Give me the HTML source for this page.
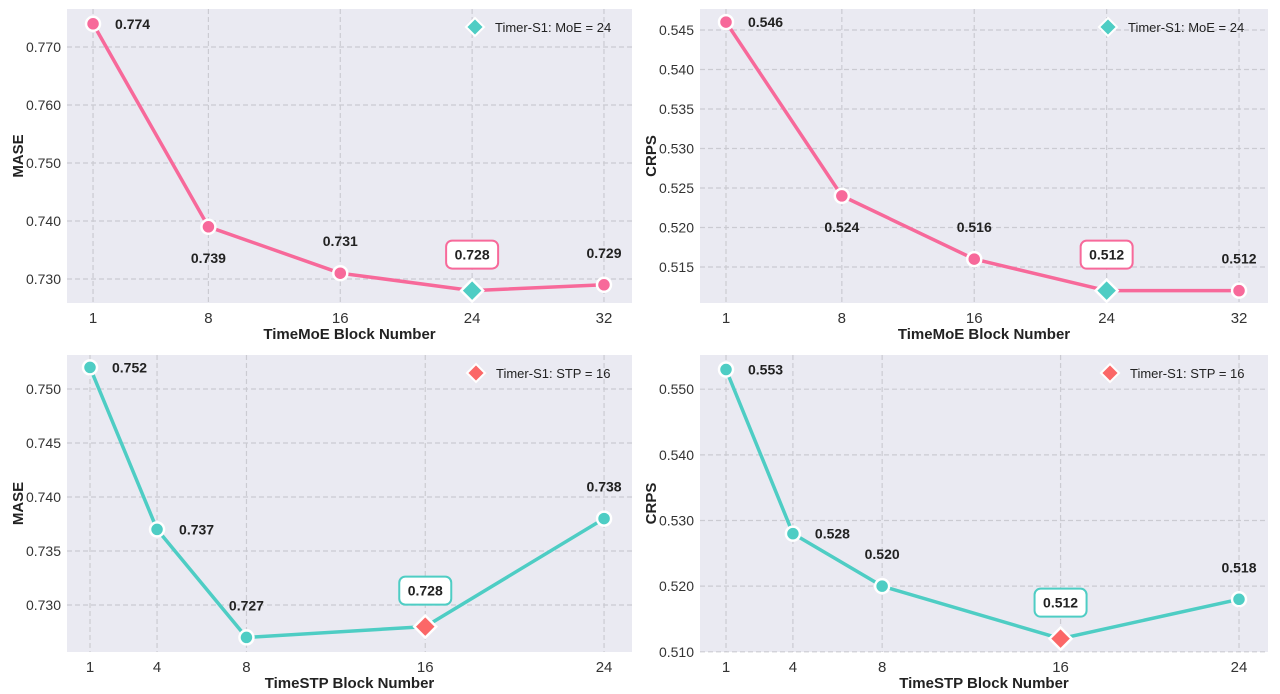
<!DOCTYPE html>
<html><head><meta charset="utf-8"><style>
body{margin:0;background:#fff;}
svg{display:block;font-family:"Liberation Sans",Arial,sans-serif;}
</style></head><body>
<svg id="c" width="1280" height="694"></svg>
<script>
const catsMoE = [1, 8, 16, 24, 32];
const maseMoE = [0.774, 0.739, 0.731, 0.728, 0.729];
const crpsMoE = [0.546, 0.524, 0.516, 0.512, 0.512];
const catsSTP = [1, 4, 8, 16, 24];
const maseSTP = [0.752, 0.737, 0.727, 0.728, 0.738];
const crpsSTP = [0.553, 0.528, 0.520, 0.512, 0.518];
const ticksMaseMoE = [0.730, 0.740, 0.750, 0.760, 0.770];
const ticksCrpsMoE = [0.515, 0.520, 0.525, 0.530, 0.535, 0.540, 0.545];
const ticksMaseSTP = [0.730, 0.735, 0.740, 0.745, 0.750];
const ticksCrpsSTP = [0.510, 0.520, 0.530, 0.540, 0.550];
const labelPosMoEMase = ['r','b','a','box','a'];
const labelPosMoECrps = ['r','b','a','box','a'];
const labelPosSTPMase = ['r','r','a','box','a'];
const labelPosSTPCrps = ['r','r','a','box','a'];

const NS='http://www.w3.org/2000/svg';
const svg=document.getElementById('c');
function mk(tag,attrs,parent){const e=document.createElementNS(NS,tag);for(const k in attrs)e.setAttribute(k,attrs[k]);(parent||svg).appendChild(e);return e;}

const PINK='#f7699a', TEAL='#4ecdc4', CORAL='#fb6767';
const panels=[
 {id:'moe-mase',x0:67,x1:632,y0:9,y1:303,xd:[-0.58,33.7],yd:[0.72586,0.77655],cats:catsMoE,vals:maseMoE,ticks:ticksMaseMoE,pos:labelPosMoEMase,col:PINK,hl:3,hcol:TEAL,ylab:'MASE',xlab:'TimeMoE Block Number',leg:'Timer-S1: MoE = 24',legX:475},
 {id:'moe-crps',x0:700,x1:1268,y0:9,y1:303,xd:[-0.571,33.75],yd:[0.51044,0.54766],cats:catsMoE,vals:crpsMoE,ticks:ticksCrpsMoE,pos:labelPosMoECrps,col:PINK,hl:3,hcol:TEAL,ylab:'CRPS',xlab:'TimeMoE Block Number',leg:'Timer-S1: MoE = 24',legX:1108},
 {id:'stp-mase',x0:67,x1:632,y0:355,y1:652,xd:[-0.029,25.25],yd:[0.72565,0.75315],cats:catsSTP,vals:maseSTP,ticks:ticksMaseSTP,pos:labelPosSTPMase,col:TEAL,hl:3,hcol:CORAL,ylab:'MASE',xlab:'TimeSTP Block Number',leg:'Timer-S1: STP = 16',legX:476},
 {id:'stp-crps',x0:700,x1:1268,y0:355,y1:652,xd:[-0.166,25.3],yd:[0.50997,0.55521],cats:catsSTP,vals:crpsSTP,ticks:ticksCrpsSTP,pos:labelPosSTPCrps,col:TEAL,hl:3,hcol:CORAL,ylab:'CRPS',xlab:'TimeSTP Block Number',leg:'Timer-S1: STP = 16',legX:1110}
];
panels.forEach(p=>{
 const X=v=>p.x0+(v-p.xd[0])/(p.xd[1]-p.xd[0])*(p.x1-p.x0);
 const Y=v=>p.y1-(v-p.yd[0])/(p.yd[1]-p.yd[0])*(p.y1-p.y0);
 const g=mk('g',{});
 
 
 const bg=mk('rect',{x:p.x0,y:p.y0,width:p.x1-p.x0,height:p.y1-p.y0,fill:'#eaeaf2'},g);
 
 
 p.ticks.forEach(t=>{
  const y=Y(t);
  const gl=mk('line',{x1:p.x0,x2:p.x1,y1:y,y2:y,stroke:'#cbcbd2','stroke-width':1.2,'stroke-dasharray':'5,3'},g);
  
  
  const tl=mk('text',{x:p.x0-6,y:y+5,'text-anchor':'end','font-size':14,fill:'#333'},g);
  tl.textContent=t.toFixed(3);
  
  
 });
 p.cats.forEach(c=>{
  const x=X(c);
  const gl=mk('line',{x1:x,x2:x,y1:p.y0,y2:p.y1,stroke:'#cbcbd2','stroke-width':1.2,'stroke-dasharray':'5,3'},g);
  
  
  const tl=mk('text',{x:x,y:p.y1+20,'text-anchor':'middle','font-size':15,fill:'#333'},g);
  tl.textContent=c;
  
  
 });
 const xt=mk('text',{x:(p.x0+p.x1)/2,y:p.y1+36,'text-anchor':'middle','font-size':15,'font-weight':'bold',fill:'#222'},g);
 xt.textContent=p.xlab;
 
 
 const ycx=p.x0-44, ycy=(p.y0+p.y1)/2;
 const yt=mk('text',{x:ycx,y:ycy,'text-anchor':'middle','font-size':15,'font-weight':'bold',fill:'#222',transform:`rotate(-90 ${ycx} ${ycy})`},g);
 yt.textContent=p.ylab;
 
 
 const pts=p.cats.map((c,i)=>X(c)+','+Y(p.vals[i])).join(' ');
 const line=mk('polyline',{points:pts,fill:'none',stroke:p.col,'stroke-width':3.5,'stroke-linejoin':'round'},g);
 
 
 p.cats.forEach((c,i)=>{
  const x=X(c),y=Y(p.vals[i]);
  let m;
  if(i===p.hl){
   const s=11;
   m=mk('polygon',{points:`${x},${y-s} ${x+s},${y} ${x},${y+s} ${x-s},${y}`,fill:p.hcol,stroke:'#fff','stroke-width':2.5},g);
   
  } else {
   m=mk('circle',{cx:x,cy:y,r:7,fill:p.col,stroke:'#fff','stroke-width':2.5},g);
   
  }
  
  const txt=p.vals[i].toFixed(3);
  const pos=p.pos[i];
  let lx=x,ly=y,anchor='middle';
  if(pos==='r'){lx=x+22;ly=y+5;anchor='start';}
  else if(pos==='b'){ly=y+36;}
  else if(pos==='a'){ly=y-27;}
  else if(pos==='box'){
   ly=y-31;
   const br=mk('rect',{x:x-26,y:y-50,width:52,height:28,rx:6,fill:'#fff',stroke:p.col,'stroke-width':2},g);
   
   
  }
  const lt=mk('text',{x:lx,y:ly,'text-anchor':anchor,'font-size':14,'font-weight':'bold',fill:'#222'},g);
  lt.textContent=txt;
  
  
 });
 const lg=mk('g',{},g);
 
 
 const lx=p.legX, ly=p.y0+18, s=9;
 mk('polygon',{points:`${lx},${ly-s} ${lx+s},${ly} ${lx},${ly+s} ${lx-s},${ly}`,fill:p.hcol,stroke:'#fff','stroke-width':2},lg);
 const lt=mk('text',{x:lx+20,y:ly+5,'font-size':13,fill:'#222'},lg);
 lt.textContent=p.leg;
 
 
});
</script>
</body></html>
